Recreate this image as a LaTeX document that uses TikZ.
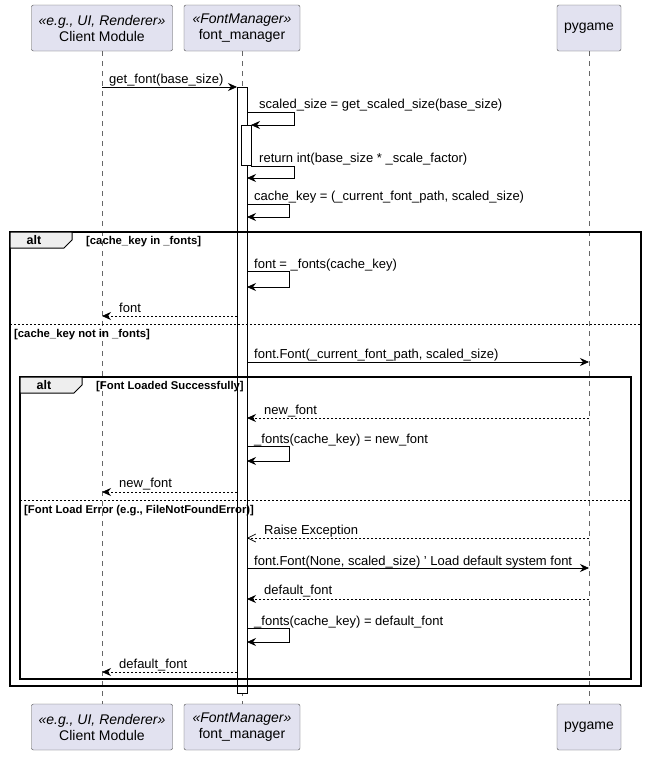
\documentclass[tikz,border=0pt]{standalone}
\usepackage{fontspec}
\setmainfont{Liberation Sans}
\usetikzlibrary{arrows.meta,calc}
\begin{document}
\begin{tikzpicture}[x=1pt,y=-1pt,
  part/.style={draw=black!70,fill={rgb,255:red,226;green,226;blue,240},rounded corners=2pt,minimum height=46pt,align=center,font=\fontsize{14}{16}\selectfont,inner sep=2pt},
  life/.style={draw=black!60,dash pattern=on 5pt off 5pt,line width=0.6pt},
  msg/.style={-{Stealth[length=9pt,width=8pt,inset=3pt]},line width=0.7pt},
  ret/.style={msg,dash pattern=on 2pt off 2pt},
  lbl/.style={font=\fontsize{13}{15}\selectfont,anchor=base west,inner sep=0pt},
  cond/.style={font=\bfseries\fontsize{11.3}{13}\selectfont,anchor=base west,inner sep=0pt},
  act/.style={draw,fill=white,line width=0.7pt}]
\useasboundingbox (0,0) rectangle (647,758);
% participants
\node[part,minimum width=141pt] (c1) at (102,28) {\textit{«e.g., UI, Renderer»}\\Client Module};
\node[part,minimum width=116pt] (f1) at (242,28) {\textit{«FontManager»}\\font\_manager};
\node[part,minimum width=64pt] (p1) at (589,28) {pygame};
\node[part,minimum width=141pt] (c2) at (102,727) {\textit{«e.g., UI, Renderer»}\\Client Module};
\node[part,minimum width=116pt] (f2) at (242,727) {\textit{«FontManager»}\\font\_manager};
\node[part,minimum width=64pt] (p2) at (589,727) {pygame};
\draw[life] (c1.south) -- (c2.north);
\draw[life] (f1.south) -- (f2.north);
\draw[life] (p1.south) -- (p2.north);
% activations
\draw[act] (237,87) rectangle (247,693);
\draw[act] (241,125) rectangle (251,165);
\coordinate (A) at (247,0); \coordinate (B) at (251,0);
\coordinate (AL) at (237,0);
% frames
\draw[line width=1.5pt] (10,232) rectangle (641,686);
\draw[fill={rgb,255:red,238;green,238;blue,238},line width=1pt] (10,232) -- (72,232) -- (72,240) -- (64,248) -- (10,248) -- cycle;
\node[font=\bfseries\fontsize{12.5}{13}\selectfont] at (34,240.5) {alt};
\node[cond] at (86,244.5) {[cache\_key in \_fonts]};
\draw[dash pattern=on 2pt off 2pt,line width=0.6pt] (10,324) -- (641,324);
\node[cond] at (14,337) {[cache\_key not in \_fonts]};
\draw[line width=1.5pt] (20,377) rectangle (631,679);
\draw[fill={rgb,255:red,238;green,238;blue,238},line width=1pt] (20,377) -- (82,377) -- (82,385) -- (74,393) -- (20,393) -- cycle;
\node[font=\bfseries\fontsize{12.5}{13}\selectfont] at (44,385.5) {alt};
\node[cond] at (96,389.5) {[Font Loaded Successfully]};
\draw[dash pattern=on 2pt off 2pt,line width=0.6pt] (20,500) -- (631,500);
\node[cond] at (24,513) {[Font Load Error (e.g., FileNotFoundError)]};
% messages
\draw[msg] (c1 |- 0,87) -- (AL |- 0,87);
\node[lbl] at (109,83) {get\_font(base\_size)};
\draw[msg] (A |- 0,112) -- (294,112) -- (294,125) -- (B |- 0,125);
\node[lbl] at (259,108) {scaled\_size = get\_scaled\_size(base\_size)};
\draw[msg] (B |- 0,166) -- (294,166) -- (294,178) -- (A |- 0,178);
\node[lbl] at (259,162) {return int(base\_size * \_scale\_factor)};
\draw[msg] (A |- 0,204) -- (289,204) -- (289,217) -- (A |- 0,217);
\node[lbl] at (254,200) {cache\_key = (\_current\_font\_path, scaled\_size)};
\draw[msg] (A |- 0,271) -- (289,271) -- (289,287) -- (A |- 0,287);
\node[lbl] at (254,268) {font = \_fonts(cache\_key)};
\draw[ret] (AL |- 0,316) -- (c1 |- 0,316);
\node[lbl] at (119,312) {font};
\draw[msg] (A |- 0,362) -- (p1 |- 0,362);
\node[lbl] at (254,358) {font.Font(\_current\_font\_path, scaled\_size)};
\draw[ret] (p1 |- 0,418) -- (A |- 0,418);
\node[lbl] at (264,414) {new\_font};
\draw[msg] (A |- 0,446) -- (289,446) -- (289,461) -- (A |- 0,461);
\node[lbl] at (254,443) {\_fonts(cache\_key) = new\_font};
\draw[ret] (AL |- 0,492) -- (c1 |- 0,492);
\node[lbl] at (119,487) {new\_font};
\draw[-{Straight Barb[length=8pt,width=8pt]},line width=0.7pt,dash pattern=on 2pt off 2pt] (p1 |- 0,538) -- (A |- 0,538);
\node[lbl] at (264,534) {Raise Exception};
\draw[msg] (A |- 0,568) -- (p1 |- 0,568);
\node[lbl] at (254,565) {font.Font(None, scaled\_size) ' Load default system font};
\draw[ret] (p1 |- 0,599) -- (A |- 0,599);
\node[lbl] at (264,594) {default\_font};
\draw[msg] (A |- 0,628) -- (289,628) -- (289,642) -- (A |- 0,642);
\node[lbl] at (254,625) {\_fonts(cache\_key) = default\_font};
\draw[ret] (AL |- 0,672) -- (c1 |- 0,672);
\node[lbl] at (119,668) {default\_font};
\end{tikzpicture}
\end{document}
